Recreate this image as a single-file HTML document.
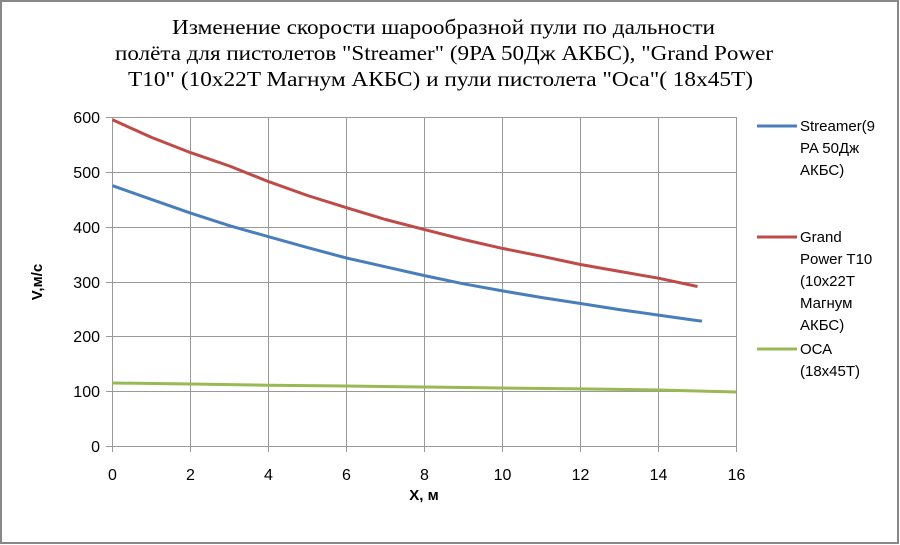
<!DOCTYPE html>
<html><head><meta charset="utf-8"><style>
body{margin:0;background:#fff;}
svg{display:block;font-family:"Liberation Sans","DejaVu Sans",sans-serif;}
</style></head><body>
<svg width="900" height="545" viewBox="0 0 900 545" xmlns="http://www.w3.org/2000/svg">
<rect x="1" y="1" width="897" height="542" fill="#fff" stroke="#888" stroke-width="2"/>
<g font-family="Liberation Serif,serif" font-size="21" fill="#000">
<text x="172" y="34" textLength="543" lengthAdjust="spacingAndGlyphs">Изменение скорости шарообразной пули  по дальности</text>
<text x="115" y="60" textLength="658" lengthAdjust="spacingAndGlyphs">полёта для пистолетов "Streamer"  (9PA 50Дж АКБС), "Grand Power</text>
<text x="128" y="86" textLength="625" lengthAdjust="spacingAndGlyphs">T10" (10x22T Магнум АКБС) и пули пистолета "Оса"( 18x45T)</text>
</g>
<g stroke="#999" stroke-width="1">
<line x1="112.5" y1="117.5" x2="736.5" y2="117.5"/>
<line x1="112.5" y1="172.5" x2="736.5" y2="172.5"/>
<line x1="112.5" y1="227.5" x2="736.5" y2="227.5"/>
<line x1="112.5" y1="282.5" x2="736.5" y2="282.5"/>
<line x1="112.5" y1="336.5" x2="736.5" y2="336.5"/>
<line x1="112.5" y1="391.5" x2="736.5" y2="391.5"/>
<line x1="106" y1="446.5" x2="736.5" y2="446.5"/>
<line x1="106" y1="117.5" x2="112.5" y2="117.5"/><line x1="106" y1="172.5" x2="112.5" y2="172.5"/><line x1="106" y1="227.5" x2="112.5" y2="227.5"/><line x1="106" y1="282.5" x2="112.5" y2="282.5"/><line x1="106" y1="336.5" x2="112.5" y2="336.5"/><line x1="106" y1="391.5" x2="112.5" y2="391.5"/>
<line x1="112.5" y1="117" x2="112.5" y2="452"/>
<line x1="190.5" y1="117" x2="190.5" y2="452"/>
<line x1="268.5" y1="117" x2="268.5" y2="452"/>
<line x1="346.5" y1="117" x2="346.5" y2="452"/>
<line x1="424.5" y1="117" x2="424.5" y2="452"/>
<line x1="502.5" y1="117" x2="502.5" y2="452"/>
<line x1="580.5" y1="117" x2="580.5" y2="452"/>
<line x1="658.5" y1="117" x2="658.5" y2="452"/>
<line x1="736.5" y1="117" x2="736.5" y2="452"/>
</g>
<g font-size="16" fill="#000" text-anchor="end">
<text x="100" y="123">600</text><text x="100" y="178">500</text><text x="100" y="233">400</text><text x="100" y="288">300</text><text x="100" y="342">200</text><text x="100" y="397">100</text><text x="100" y="452">0</text>
</g>
<g font-size="16" fill="#000" text-anchor="middle">
<text x="112.5" y="480">0</text><text x="190.5" y="480">2</text><text x="268.5" y="480">4</text><text x="346.5" y="480">6</text><text x="424.5" y="480">8</text><text x="502.5" y="480">10</text><text x="580.5" y="480">12</text><text x="658.5" y="480">14</text><text x="736.5" y="480">16</text>
</g>
<text x="424" y="500" font-size="15" font-weight="bold" text-anchor="middle">X, м</text>
<text transform="translate(42,282) rotate(-90)" font-size="15" font-weight="bold" text-anchor="middle">V,м/с</text>
<g fill="none" stroke-width="3" stroke-linejoin="round">
<polyline stroke="#4a7ebb" points="112.5,185.7 151.5,199.4 190.5,213.1 229.5,225.7 268.5,236.7 307.5,247.6 346.5,258.0 385.5,266.8 424.5,275.6 463.5,283.8 502.5,290.9 541.5,297.5 580.5,303.5 619.5,309.6 658.5,315.1 697.5,320.6 702,321.1"/>
<polyline stroke="#be4b48" points="112.5,119.8 151.5,137.4 190.5,152.6 229.5,166.0 268.5,181.6 307.5,195.5 346.5,207.7 385.5,219.5 424.5,229.6 463.5,239.5 502.5,248.4 541.5,256.2 580.5,264.5 619.5,271.4 658.5,278.2 697.5,286.5"/>
<polyline stroke="#98b954" points="112.5,383.0 190.5,384.0 268.5,385.2 346.5,386.0 424.5,387.0 502.5,388.0 580.5,388.9 658.5,390.0 736.5,392.0"/>
</g>
<g stroke-width="3">
<line x1="757" y1="126" x2="797" y2="126" stroke="#4a7ebb"/>
<line x1="757" y1="237" x2="797" y2="237" stroke="#be4b48"/>
<line x1="757" y1="349" x2="797" y2="349" stroke="#98b954"/>
</g>
<g font-size="15" fill="#000">
<text x="800" y="131">Streamer(9</text><text x="800" y="153">PA 50Дж</text><text x="800" y="175">АКБС)</text>
<text x="800" y="242">Grand</text><text x="800" y="264">Power T10</text><text x="800" y="286">(10x22T</text><text x="800" y="308">Магнум</text><text x="800" y="330">АКБС)</text>
<text x="800" y="354">ОСА</text><text x="800" y="376">(18x45T)</text>
</g>
</svg>
</body></html>
